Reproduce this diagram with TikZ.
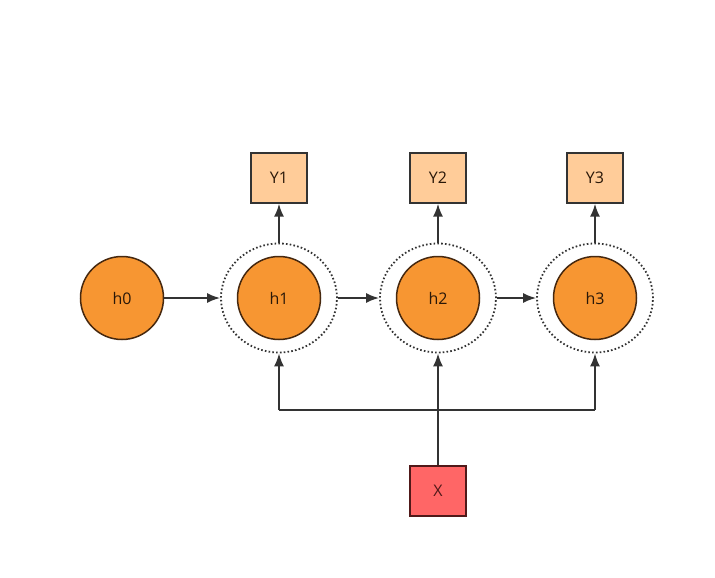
\documentclass[tikz,border=0pt]{standalone}
\usepackage{fontspec}
\setmainfont{Open Sans}
\usetikzlibrary{arrows.meta,shapes.geometric}
\definecolor{hfill}{RGB}{247,150,50}
\definecolor{hdraw}{RGB}{70,40,15}
\definecolor{yfill}{RGB}{255,204,153}
\definecolor{xfill}{RGB}{255,102,102}
\definecolor{xdraw}{RGB}{80,25,25}
\definecolor{lncol}{RGB}{51,51,51}
\begin{document}
\begin{tikzpicture}[x=1pt,y=-1pt,
  hnode/.style={circle,draw=hdraw,fill=hfill,line width=1.5pt,minimum size=83pt,inner sep=0pt,font=\fontsize{16}{18}\selectfont,text=hdraw!60!black},
  ring/.style={ellipse,draw=lncol,line width=1.8pt,dash pattern=on 1.6pt off 2.2pt,minimum width=116pt,minimum height=109pt,inner sep=0pt},
  ybox/.style={rectangle,draw=lncol,fill=yfill,line width=1.4pt,minimum width=56pt,minimum height=50pt,inner sep=0pt,font=\fontsize{16}{18}\selectfont,text=hdraw!60!black},
  xbox/.style={rectangle,draw=xdraw,fill=xfill,line width=1.4pt,minimum width=56pt,minimum height=50pt,inner sep=0pt,font=\fontsize{16}{18}\selectfont,text=xdraw},
  conn/.style={draw=lncol,line width=1.8pt,-{Latex[length=13pt,width=10pt]}},
  plain/.style={draw=lncol,line width=1.8pt}]
\useasboundingbox (0,0) rectangle (715,578);
\node[hnode] (h0) at (122,298) {h0};
\node[ring] (r1) at (279,298) {};
\node[ring] (r2) at (438,298) {};
\node[ring] (r3) at (595,298) {};
\node[hnode] (h1) at (279,298) {h1};
\node[hnode] (h2) at (438,298) {h2};
\node[hnode] (h3) at (595,298) {h3};
\node[ybox] (y1) at (279,178) {Y1};
\node[ybox] (y2) at (438,178) {Y2};
\node[ybox] (y3) at (595,178) {Y3};
\node[xbox] (x) at (438,491) {X};
\coordinate (bl) at (279,410);
\coordinate (br) at (595,410);
\draw[conn] (h0) -- (r1);
\draw[conn] (r1) -- (r2);
\draw[conn] (r2) -- (r3);
\draw[conn] (r1) -- (y1);
\draw[conn] (r2) -- (y2);
\draw[conn] (r3) -- (y3);
\draw[conn] (x) -- (r2);
\draw[plain] (bl) -- (br);
\draw[conn] (bl) -- (r1.south);
\draw[conn] (br) -- (r3.south);
\end{tikzpicture}
\end{document}
